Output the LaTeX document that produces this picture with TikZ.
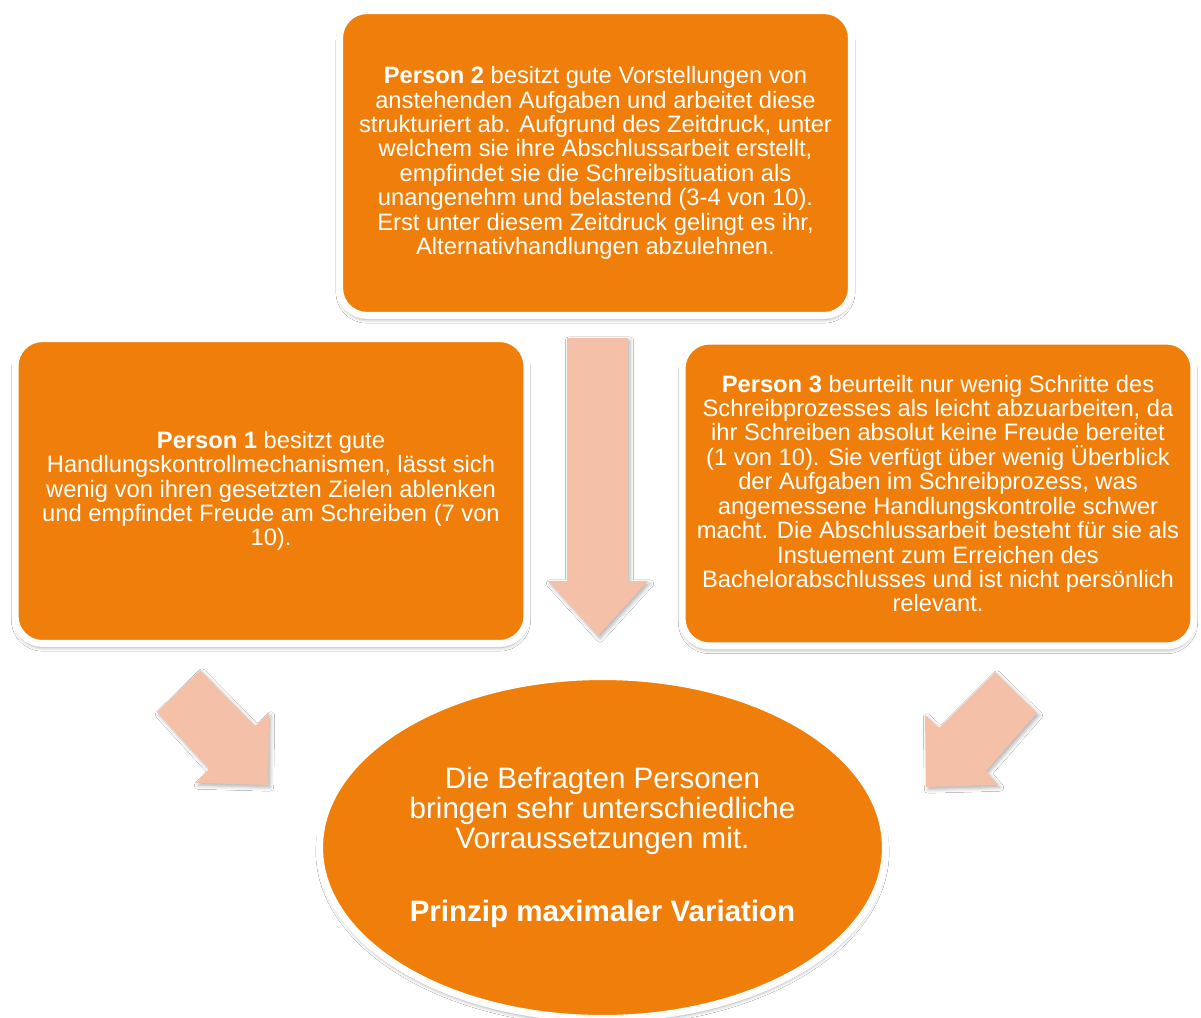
\documentclass[tikz,border=0pt]{standalone}
\usepackage{fontspec}
\setmainfont{Liberation Sans}
\usetikzlibrary{shapes.geometric,shadows.blur}
\definecolor{boxorange}{RGB}{239,127,10}
\definecolor{arrowpink}{RGB}{245,192,168}
\tikzset{
  x=0.02cm, y=-0.02cm,
  persbox/.style={draw=white, line width=0.14cm, fill=boxorange, rounded corners=0.55cm,
    minimum width=10.24cm, minimum height=6.1cm, inner sep=0pt,
    blur shadow={shadow xshift=0pt, shadow yshift=-0.08cm, shadow blur steps=6, shadow opacity=35},
    text=white, align=center, font=\fontsize{13.5}{13.9}\selectfont},
  summary/.style={ellipse, draw=white, line width=0.14cm, fill=boxorange,
    minimum width=11.32cm, minimum height=6.84cm, inner sep=0pt,
    blur shadow={shadow xshift=0pt, shadow yshift=-0.08cm, shadow blur steps=6, shadow opacity=35},
    text=white, align=center, font=\fontsize{16.8}{17.1}\selectfont},
  blockarrow/.style={fill=arrowpink,
    blur shadow={shadow xshift=0.04cm, shadow yshift=-0.05cm, shadow blur steps=4, shadow opacity=30}}
}
\begin{document}
\begin{tikzpicture}
\useasboundingbox[fill=white] (0,0) rectangle (1201,1018);
\begin{scope}
\clip (0,0) rectangle (1201,1018);

% person 2 (top)
\node[persbox] (p2) at (595.5,163) {\textbf{Person 2} besitzt gute Vorstellungen von\\
anstehenden Aufgaben und arbeitet diese\\
strukturiert ab. Aufgrund des Zeitdruck, unter\\
welchem sie ihre Abschlussarbeit erstellt,\\
empfindet sie die Schreibsituation als\\
unangenehm und belastend (3-4 von 10).\\
Erst unter diesem Zeitdruck gelingt es ihr,\\
Alternativhandlungen abzulehnen.};

% person 1 (left)
\node[persbox] (p1) at (271,491) {\textbf{Person 1} besitzt gute\\
Handlungskontrollmechanismen, lässt sich\\
wenig von ihren gesetzten Zielen ablenken\\
und empfindet Freude am Schreiben (7 von\\
10).};

% person 3 (right)
\node[persbox] (p3) at (938,493.5) {\textbf{Person 3} beurteilt nur wenig Schritte des\\
Schreibprozesses als leicht abzuarbeiten, da\\
ihr Schreiben absolut keine Freude bereitet\\
(1 von 10). Sie verfügt über wenig Überblick\\
der Aufgaben im Schreibprozess, was\\
angemessene Handlungskontrolle schwer\\
macht. Die Abschlussarbeit besteht für sie als\\
Instuement zum Erreichen des\\
Bachelorabschlusses und ist nicht persönlich\\
relevant.};

% block arrows
\fill[blockarrow] (567,338) -- (628,338) -- (628,581) -- (648,581) -- (598,636)
  -- (548,581) -- (567,581) -- cycle;
\fill[blockarrow] (200,670) -- (157,712) -- (209,769) -- (196,783) -- (268,785)
  -- (269,713) -- (255,726) -- cycle;
\fill[blockarrow] (995,672) -- (1037,713) -- (986,771) -- (998,785) -- (926,787)
  -- (925,715) -- (939,728) -- cycle;

% summary ellipse
\node[summary] (sum) at (602.5,847.5) {Die Befragten Personen\\
bringen sehr unterschiedliche\\
Vorraussetzungen mit.\\[0.86cm]
\textbf{Prinzip maximaler Variation}};
\end{scope}
\end{tikzpicture}
\end{document}
